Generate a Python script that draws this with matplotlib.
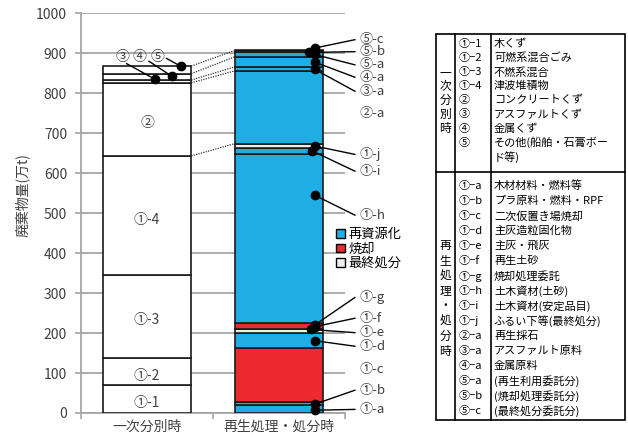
import matplotlib
matplotlib.use('Agg')
import matplotlib.pyplot as plt
from matplotlib.patches import Patch, Rectangle
from matplotlib.lines import Line2D
import numpy as np

plt.rcParams['font.family'] = ['Noto Sans CJK JP', 'DejaVu Sans']

# data (万t)
categories = ['一次分別時', '再生処理・処分時']

left_labels = ['①-1', '①-2', '①-3', '①-4', '②', '③', '④', '⑤']
left_values = [69, 69, 207, 298, 183, 7, 16, 19]

right_labels = ['①-a', '①-b', '①-c', '①-d', '①-e', '①-f', '①-g', '①-h',
                '①-i', '①-j', '②-a', '③-a', '④-a', '⑤-a', '⑤-b', '⑤-c']
right_values = [20, 7, 135, 37, 11, 1, 13, 423, 15, 12, 182, 10, 25, 12, 2, 2]
right_types = ['再資源化', '再資源化', '焼却', '再資源化', '最終処分', '再資源化',
               '焼却', '再資源化', '再資源化', '最終処分', '再資源化', '再資源化',
               '再資源化', '再資源化', '焼却', '最終処分']

type_names = ['再資源化', '焼却', '最終処分']
type_colors = {'再資源化': '#1FAEE3', '焼却': '#EC2A2F', '最終処分': '#EDEDED'}

# annotation layout for the right bar (label y, dot y, dot x)
right_label_y = [9, 57, 109, 167, 201, 237, 289, 495, 605, 647, 749, 805, 840, 871, 904, 934]
right_dot_y = [7, 22, None, 181, 209, 216, 220, 545, 656, 668, None, 860, 878, 897, 902, 913]
right_dot_x = [1.27, 1.27, None, 1.27, 1.24, 1.27, 1.27, 1.27, 1.25, 1.27, None,
               1.27, 1.27, 1.27, 1.227, 1.27]

# legend table texts
table1_codes = ['①−1', '①−2', '①−3', '①−4', '②', '③', '④', '⑤', '']
table1_names = ['木くず', '可燃系混合ごみ', '不燃系混合', '津波堆積物', 'コンクリートくず',
                'アスファルトくず', '金属くず', 'その他(船舶・石膏ボー', 'ド等)']
table2_codes = ['①−a', '①−b', '①−c', '①−d', '①−e', '①−f', '①−g', '①−h',
                '①−i', '①−j', '②−a', '③−a', '④−a', '⑤−a', '⑤−b', '⑤−c']
table2_names = ['木材材料・燃料等', 'プラ原料・燃料・RPF', '二次仮置き場焼却', '主灰造粒固化物',
                '主灰・飛灰', '再生土砂', '焼却処理委託', '土木資材(土砂)', '土木資材(安定品目)',
                'ふるい下等(最終処分)', '再生採石', 'アスファルト原料', '金属原料',
                '(再生利用委託分)', '(焼却処理委託分)', '(最終処分委託分)']

W, H = 628, 437
fig = plt.figure(figsize=(W / 100, H / 100), dpi=100)
ax = fig.add_axes([81 / W, 24 / H, 264 / W, 399.7 / H])

grey = '#A6A6A6'
txt = '#404040'
edge = '#1A1A1A'
bw = 0.67

# left bar
lb = np.concatenate([[0], np.cumsum(left_values)[:-1]])
ax.bar([0] * len(left_values), left_values, bottom=lb, width=bw,
       color='white', edgecolor=edge, linewidth=1.2, zorder=3)
for lab, v, b in zip(left_labels[:5], left_values[:5], lb[:5]):
    ax.text(0, b + v / 2 - 10, lab, ha='center', va='center', fontsize=10, color=txt, zorder=5)

# right bar
rb = np.concatenate([[0], np.cumsum(right_values)[:-1]])
ax.bar([1] * len(right_values), right_values, bottom=rb, width=bw,
       color=[type_colors[t] for t in right_types], edgecolor=edge, linewidth=1.2, zorder=3)

# dotted connectors between main groups
ltop = np.cumsum(left_values)
rtop = np.cumsum(right_values)
groups = ['①', '②', '③', '④', '⑤']
for g in groups:
    li = max(i for i, l in enumerate(left_labels) if l.startswith(g))
    ri = max(i for i, l in enumerate(right_labels) if l.startswith(g))
    ax.plot([bw / 2, 1 - bw / 2], [ltop[li], rtop[ri]], color='#333333',
            linestyle=(0, (1, 1)), linewidth=0.9, zorder=4)

# annotations on the right bar
for lab, ly, dy, dx in zip(right_labels, right_label_y, right_dot_y, right_dot_x):
    if dy is not None:
        ax.plot([dx, 1.575], [dy, ly], color='black', lw=1, zorder=6, clip_on=False)
        ax.plot(dx, dy, 'o', color='black', ms=6, zorder=7, clip_on=False)
    ax.text(1.612, ly, lab, ha='left', va='center', fontsize=9.5, color=txt, clip_on=False)

# annotations above the left bar (③ ④ ⑤)
small_lbl_x = [-0.189, -0.06, 0.076]
small_start = [(-0.154, 874), (0.015, 880), (0.149, 887)]
small_dot = [(0.06, 835), (0.19, 842), (0.258, 867)]
for lab, lx, s, d in zip(left_labels[5:], small_lbl_x, small_start, small_dot):
    ax.text(lx, 891, lab, ha='center', va='center', fontsize=10, color=txt, zorder=6)
    ax.plot([s[0], d[0]], [s[1], d[1]], color='black', lw=1, zorder=6)
    ax.plot(d[0], d[1], 'o', color='black', ms=6, zorder=7)

ax.set_xlim(-0.5, 1.5)
ax.set_ylim(0, 1000)
ax.set_yticks(np.arange(0, 1001, 100))
ax.set_xticks([0, 1])
ax.set_xticklabels(categories, fontsize=10, color=txt)
ax.set_xticks([-0.5, 0.5, 1.5], minor=True)
ax.tick_params(axis='x', which='major', length=0, pad=5)
ax.tick_params(axis='x', which='minor', length=4, color=grey, width=1.2)
ax.tick_params(axis='y', length=4, color=grey, width=1.2, labelsize=10, labelcolor=txt, pad=6)
ax.set_axisbelow(True)
ax.yaxis.grid(True, color=grey, linewidth=1.3)
for s in ['top', 'right']:
    ax.spines[s].set_visible(False)
for s in ['left', 'bottom']:
    ax.spines[s].set_color(grey)
    ax.spines[s].set_linewidth(1.3)
ax.set_ylabel('廃棄物量(万t)', fontsize=10, color=txt)
ax.yaxis.set_label_coords(-0.195, 0.545)

handles = [Patch(facecolor=type_colors[t], edgecolor='black', linewidth=1) for t in type_names]
ax.legend(handles, type_names, loc='upper left', bbox_to_anchor=((336 - 81) / 264, (413 - 228) / 399.7),
          frameon=False, fontsize=9.5, handlelength=0.65, handleheight=0.65, handletextpad=0.3,
          labelspacing=0.12, borderpad=0, borderaxespad=0)

# table on the right, drawn in pixel coordinates
def fx(x):
    return x / W

def fy(y):
    return 1 - y / H

x0, x1, x2, x3 = 436, 455, 491, 625
y0, ymid, y3 = 34, 172, 420
lw = 1.2
fig.add_artist(Rectangle((fx(x0), fy(y3)), fx(x3) - fx(x0), fy(y0) - fy(y3),
                         fill=False, edgecolor='black', linewidth=lw, transform=fig.transFigure))
for xx in [x1, x2]:
    fig.add_artist(Line2D([fx(xx), fx(xx)], [fy(y0), fy(y3)], color='black', lw=lw))
fig.add_artist(Line2D([fx(x0), fx(x3)], [fy(ymid), fy(ymid)], color='black', lw=lw))

rows1 = [44 + 14.1 * i for i in range(len(table1_codes))]
rows2 = [186 + 15 * i for i in range(len(table2_codes))]
tfs = 8
for y, c, n in zip(rows1, table1_codes, table1_names):
    fig.text(fx(459), fy(y), c, fontsize=tfs, va='center', ha='left')
    fig.text(fx(494), fy(y), n, fontsize=tfs, va='center', ha='left')
for y, c, n in zip(rows2, table2_codes, table2_names):
    fig.text(fx(459), fy(y), c, fontsize=tfs, va='center', ha='left')
    fig.text(fx(494), fy(y), n, fontsize=tfs, va='center', ha='left')

side1 = '一次分別時'
side2 = '再生処理・処分時'
for ch, y in zip(side1, rows1[2:]):
    fig.text(fx(445.5), fy(y), ch, fontsize=tfs + 0.5, va='center', ha='center')
for ch, y in zip(side2, rows2[4:]):
    fig.text(fx(445.5), fy(y), ch, fontsize=tfs + 0.5, va='center', ha='center')

fig.savefig('out.png', dpi=100)
